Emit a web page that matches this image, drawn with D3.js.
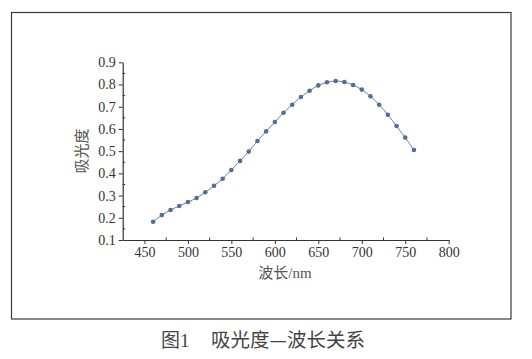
<!DOCTYPE html>
<html>
<head>
<meta charset="utf-8">
<script src="https://cdn.jsdelivr.net/npm/d3@7"></script>
<style>
body { margin: 0; background: #fff; }
svg { display: block; }
</style>
</head>
<body>
<script>
// wavelength (nm) and absorbance
var wavelength = [460, 470, 480, 490, 500, 510, 520, 530, 540, 550, 560, 570, 580, 590, 600, 610, 620, 630, 640, 650, 660, 670, 680, 690, 700, 710, 720, 730, 740, 750, 760];
var absorbance = [0.182, 0.212, 0.235, 0.253, 0.271, 0.289, 0.315, 0.344, 0.376, 0.415, 0.456, 0.498, 0.546, 0.589, 0.631, 0.673, 0.709, 0.744, 0.772, 0.796, 0.810, 0.816, 0.811, 0.798, 0.777, 0.747, 0.709, 0.664, 0.613, 0.561, 0.505];
var xTicks = [450, 500, 550, 600, 650, 700, 750, 800];
var yTicks = [0.1, 0.2, 0.3, 0.4, 0.5, 0.6, 0.7, 0.8, 0.9];

var W = 532, H = 359;
var svg = d3.select("body").append("svg").attr("width", W).attr("height", H);

// outer frame
svg.append("rect").attr("x", 11.5).attr("y", 12.5).attr("width", 499.5).attr("height", 306.5)
  .attr("fill", "none").attr("stroke", "#3a3a3a").attr("stroke-width", 1.2);

var x = d3.scaleLinear().domain([425, 800]).range([122.7, 448.7]);
var y = d3.scaleLinear().domain([0.1, 0.9]).range([240, 62.3]);

var serif = "'Liberation Serif', 'DejaVu Serif', serif";
var cjk = "'Noto Sans CJK SC', sans-serif";

// minor ticks (inside)
var xMinor = d3.range(475, 800, 50);
var yMinor = d3.range(0.15, 0.9, 0.1);
svg.append("g").selectAll("line").data(xMinor).enter().append("line")
  .attr("x1", d => x(d)).attr("x2", d => x(d)).attr("y1", 240).attr("y2", 237.5)
  .attr("stroke", "#333").attr("stroke-width", 1);
svg.append("g").selectAll("line").data(yMinor).enter().append("line")
  .attr("y1", d => y(d)).attr("y2", d => y(d)).attr("x1", 122.7).attr("x2", 125.2)
  .attr("stroke", "#333").attr("stroke-width", 1);

var xAxis = svg.append("g").attr("transform", "translate(0,240)")
  .call(d3.axisBottom(x).tickValues(xTicks).tickSize(4).tickPadding(3).tickSizeOuter(0));
var yAxis = svg.append("g").attr("transform", "translate(122.7,0)")
  .call(d3.axisLeft(y).tickValues(yTicks).tickFormat(d3.format(".1f")).tickSize(4).tickPadding(3).tickSizeOuter(0));

[xAxis, yAxis].forEach(function (g) {
  g.select(".domain").attr("stroke", "#333").attr("stroke-width", 1.2);
  g.selectAll(".tick line").attr("stroke", "#333");
  g.selectAll(".tick text").attr("fill", "#333").style("font-family", serif).style("font-size", "14px");
});

// curve
var pts = wavelength.map((w, i) => [w, absorbance[i]]);
svg.append("path").datum(pts)
  .attr("fill", "none").attr("stroke", "#6a7f9c").attr("stroke-width", 1)
  .attr("d", d3.line().x(d => x(d[0])).y(d => y(d[1])).curve(d3.curveCatmullRom));
svg.append("g").selectAll("circle").data(pts).enter().append("circle")
  .attr("cx", d => x(d[0])).attr("cy", d => y(d[1])).attr("r", 2.3)
  .attr("fill", "#4f6e9c");

// axis titles
svg.append("text").attr("x", 285).attr("y", 278).attr("text-anchor", "middle")
  .attr("fill", "#555").style("font-size", "15px")
  .html("<tspan style=\"font-family:Noto Sans CJK SC\">波长</tspan><tspan style=\"font-family:Liberation Serif\">/nm</tspan>");
svg.append("text").attr("transform", "translate(87,151) rotate(-90)").attr("text-anchor", "middle")
  .attr("fill", "#555").style("font-family", cjk).style("font-size", "15px").text("吸光度");

// caption
svg.append("text").attr("x", 161).attr("y", 347)
  .attr("fill", "#444").style("font-size", "19px")
  .html("<tspan style=\"font-family:Noto Sans CJK SC\">图</tspan><tspan style=\"font-family:Liberation Serif\">1</tspan>");
svg.append("text").attr("x", 211).attr("y", 347)
  .attr("fill", "#444").style("font-family", cjk).style("font-size", "19.5px")
  .text("吸光度—波长关系");
</script>
</body>
</html>
